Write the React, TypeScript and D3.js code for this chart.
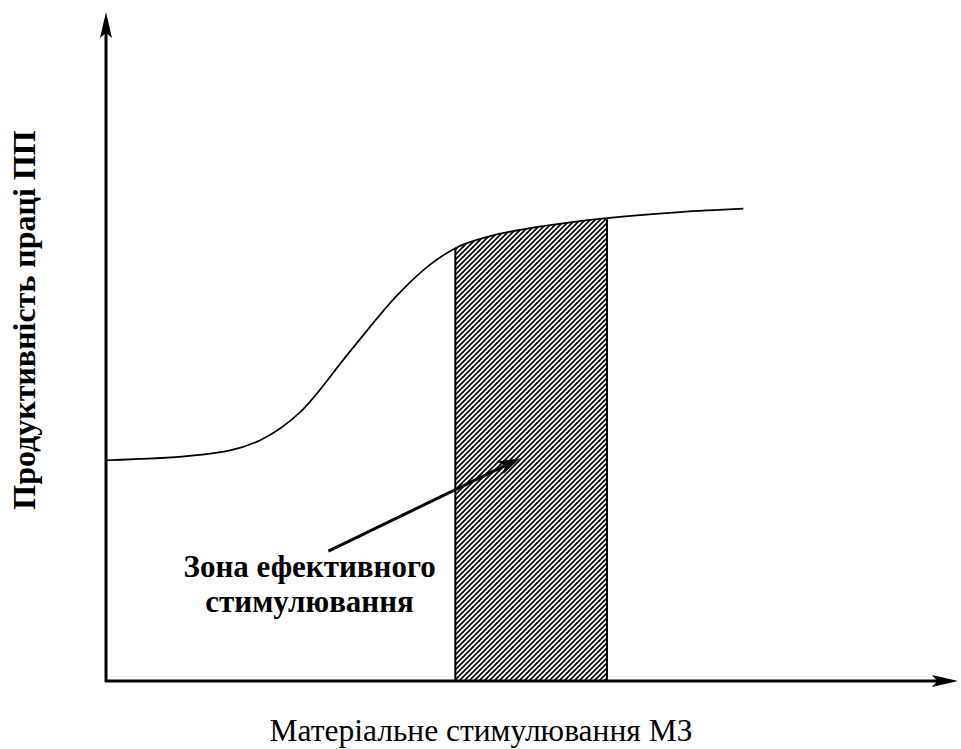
import * as d3 from "d3";
import { useEffect, useRef } from "react";

const width = 961;
const height = 749;

// curve of labour productivity vs material stimulation
const stimulus = [0, 1.1, 1.81, 2.28, 2.86, 3.45, 3.8, 4.1, 4.51, 4.98, 5.88, 6.74, 7.48];
const productivity = [3.3, 3.38, 3.6, 4.02, 4.92, 5.81, 6.22, 6.47, 6.65, 6.77, 6.92, 7.01, 7.06];

// zone of effective stimulation
const zoneStart = 4.1;
const zoneEnd = 5.88;

const zoneLabel = ["Зона ефективного", "стимулювання"];
const xTitle = "Матеріальне стимулювання МЗ";
const yTitle = "Продуктивність праці ПП";

// pointer arrow (from label to zone) and label anchor
const pointerFrom = [2.61, 1.94];
const pointerTo = [4.86, 3.33];
const labelAt = [2.39, 1.55];

const serif = "Liberation Serif, Times New Roman, serif";

export default function App() {
  const svgRef = useRef(null);

  useEffect(() => {
    const svg = d3.select(svgRef.current);
    svg.selectAll("*").remove();

    const x = d3.scaleLinear().domain([0, 10]).range([106, 958]);
    const y = d3.scaleLinear().domain([0, 10]).range([681, 12]);

    const points = stimulus.map((s, i) => [s, productivity[i]]);

    const defs = svg.append("defs");
    defs.append("pattern")
      .attr("id", "hatch")
      .attr("patternUnits", "userSpaceOnUse")
      .attr("width", 5)
      .attr("height", 5)
      .append("path")
      .attr("d", "M0,5 L5,0 M-1,1 L1,-1 M4,6 L6,4")
      .attr("stroke", "#000")
      .attr("stroke-width", 1.7);

    defs.append("clipPath")
      .attr("id", "zoneClip")
      .append("rect")
      .attr("x", x(zoneStart))
      .attr("y", 0)
      .attr("width", x(zoneEnd) - x(zoneStart))
      .attr("height", height);

    const area = d3.area()
      .x(d => x(d[0]))
      .y0(y(0))
      .y1(d => y(d[1]))
      .curve(d3.curveMonotoneX);

    svg.append("path")
      .datum(points)
      .attr("d", area)
      .attr("fill", "url(#hatch)")
      .attr("clip-path", "url(#zoneClip)");

    // zone borders
    [zoneStart, zoneEnd].forEach(z => {
      const p = points.find(d => d[0] === z);
      svg.append("line")
        .attr("x1", x(z)).attr("x2", x(z))
        .attr("y1", y(0)).attr("y2", y(p[1]))
        .attr("stroke", "#000")
        .attr("stroke-width", 2);
    });

    const line = d3.line()
      .x(d => x(d[0]))
      .y(d => y(d[1]))
      .curve(d3.curveMonotoneX);

    svg.append("path")
      .datum(points)
      .attr("d", line)
      .attr("fill", "none")
      .attr("stroke", "#000")
      .attr("stroke-width", 1.7);

    // axes
    const x0 = x(0), y0 = y(0), yTop = y(10), xRight = x(10);
    svg.append("line")
      .attr("x1", x0).attr("x2", x0)
      .attr("y1", y0 + 1).attr("y2", yTop + 18)
      .attr("stroke", "#000").attr("stroke-width", 3);
    svg.append("path")
      .attr("d", `M${x0},${yTop} L${x0 + 6},${yTop + 26} L${x0},${yTop + 21} L${x0 - 6},${yTop + 26} Z`)
      .attr("fill", "#000");

    svg.append("line")
      .attr("x1", x0 - 1).attr("x2", xRight - 18)
      .attr("y1", y0).attr("y2", y0)
      .attr("stroke", "#000").attr("stroke-width", 3);
    svg.append("path")
      .attr("d", `M${xRight},${y0} L${xRight - 26},${y0 - 6} L${xRight - 21},${y0} L${xRight - 26},${y0 + 6} Z`)
      .attr("fill", "#000");

    // pointer arrow
    const fx = x(pointerFrom[0]), fy = y(pointerFrom[1]);
    const tx = x(pointerTo[0]), ty = y(pointerTo[1]);
    const ang = Math.atan2(ty - fy, tx - fx);
    const hl = 22, hw = 7;
    const bx = tx - hl * Math.cos(ang), by = ty - hl * Math.sin(ang);
    svg.append("line")
      .attr("x1", fx).attr("y1", fy)
      .attr("x2", bx + 4 * Math.cos(ang)).attr("y2", by + 4 * Math.sin(ang))
      .attr("stroke", "#000").attr("stroke-width", 3);
    svg.append("path")
      .attr("d", `M${tx},${ty} L${bx - hw * Math.sin(ang)},${by + hw * Math.cos(ang)} L${bx + 5 * Math.cos(ang)},${by + 5 * Math.sin(ang)} L${bx + hw * Math.sin(ang)},${by - hw * Math.cos(ang)} Z`)
      .attr("fill", "#000");

    // zone label
    svg.append("g")
      .selectAll("text")
      .data(zoneLabel)
      .enter()
      .append("text")
      .attr("x", x(labelAt[0]))
      .attr("y", (d, i) => y(labelAt[1]) + i * 35)
      .attr("text-anchor", "middle")
      .attr("font-family", serif)
      .attr("font-weight", "bold")
      .attr("font-size", 31)
      .text(d => d);

    svg.append("text")
      .attr("x", 481)
      .attr("y", 741)
      .attr("text-anchor", "middle")
      .attr("font-family", serif)
      .attr("font-size", 31.5)
      .text(xTitle);

    svg.append("text")
      .attr("transform", "translate(35,320) rotate(-90)")
      .attr("text-anchor", "middle")
      .attr("font-family", serif)
      .attr("font-weight", "bold")
      .attr("font-size", 32)
      .text(yTitle);
  }, []);

  return (
    <svg
      ref={svgRef}
      width={width}
      height={height}
      style={{ position: "fixed", left: 0, top: 0, background: "#fff" }}
    ></svg>
  );
}
